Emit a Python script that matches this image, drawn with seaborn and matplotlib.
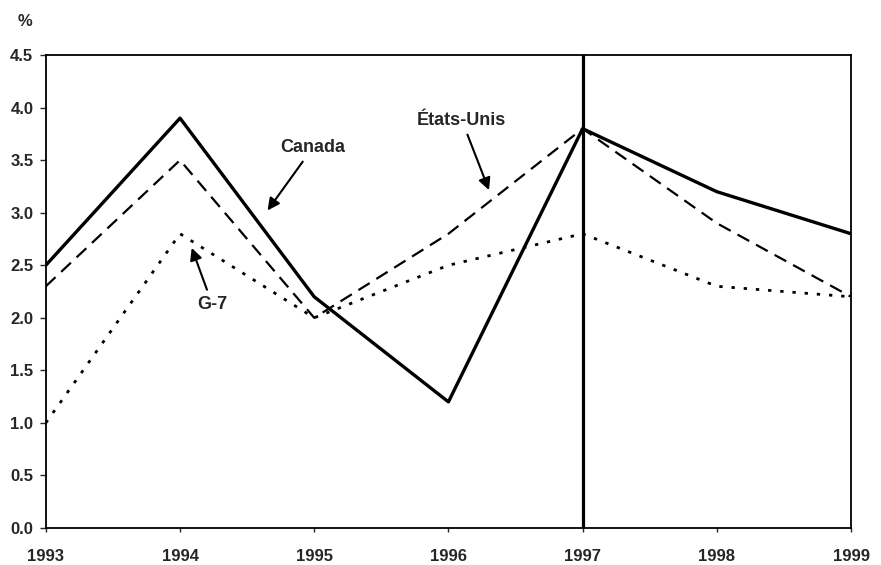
import matplotlib
matplotlib.use("Agg")
import matplotlib.pyplot as plt
import seaborn as sns
import pandas as pd

# Values (%)
years = [1993, 1994, 1995, 1996, 1997, 1998, 1999]
canada = [2.5, 3.9, 2.2, 1.2, 3.8, 3.2, 2.8]
etats_unis = [2.3, 3.5, 2.0, 2.8, 3.8, 2.9, 2.2]
g7 = [1.0, 2.8, 2.0, 2.5, 2.8, 2.3, 2.2]
y_ticks = [0.0, 0.5, 1.0, 1.5, 2.0, 2.5, 3.0, 3.5, 4.0, 4.5]

df = pd.DataFrame({
    "year": years * 3,
    "value": canada + etats_unis + g7,
    "serie": ["Canada"] * 7 + ["États-Unis"] * 7 + ["G-7"] * 7,
})

sns.set_theme(style="white")
plt.rcParams["font.family"] = ["Liberation Sans", "DejaVu Sans"]
plt.rcParams["font.weight"] = "bold"

fig = plt.figure(figsize=(8.81, 5.65), dpi=100)
ax = fig.add_axes([0.052, 0.0655, 0.914, 0.837])

styles = {
    "Canada": dict(ls="-", lw=2.4),
    "États-Unis": dict(ls=(0, (6, 3.5)), lw=1.6),
    "G-7": dict(ls=(0, (1.2, 3.2)), lw=2.0),
}
for name, st in styles.items():
    sns.lineplot(data=df[df["serie"] == name], x="year", y="value",
                 color="black", ax=ax, legend=False, **st)

# vertical marker at 1997
ax.axvline(1997, color="black", lw=2.3)

ax.set_xlim(1993, 1999)
ax.set_ylim(0, 4.5)
ax.set_xticks(years)
ax.set_xticklabels([str(y) for y in years])
ax.set_yticks(y_ticks)
ax.set_yticklabels([f"{v:.1f}" for v in y_ticks])
ax.set_xlabel("")
ax.set_ylabel("")

for sp in ax.spines.values():
    sp.set_visible(True)
    sp.set_color("black")
    sp.set_linewidth(1.3)

ax.tick_params(axis="y", direction="out", length=4, width=1, pad=5,
               labelsize=12, left=True)
ax.tick_params(axis="x", direction="out", length=3, width=1, pad=12,
               labelsize=12, bottom=True)
for lab in ax.get_xticklabels() + ax.get_yticklabels():
    lab.set_fontweight("bold")

ax.text(-0.026, 1.07, "%", transform=ax.transAxes, ha="center", va="center",
        fontsize=12, fontweight="bold")

arrow = dict(arrowstyle="-|>", color="black", lw=1.5, mutation_scale=18)
ax.annotate("Canada", xy=(1994.64, 3.0), xytext=(1994.99, 3.62),
            ha="center", va="center", fontsize=13, fontweight="bold",
            arrowprops=arrow)
ax.annotate("États-Unis", xy=(1996.31, 3.19), xytext=(1996.10, 3.88),
            ha="center", va="center", fontsize=13, fontweight="bold",
            arrowprops=arrow)
ax.annotate("G-7", xy=(1994.08, 2.69), xytext=(1994.24, 2.13),
            ha="center", va="center", fontsize=13, fontweight="bold",
            arrowprops=arrow)

fig.savefig("out.png", dpi=100)
